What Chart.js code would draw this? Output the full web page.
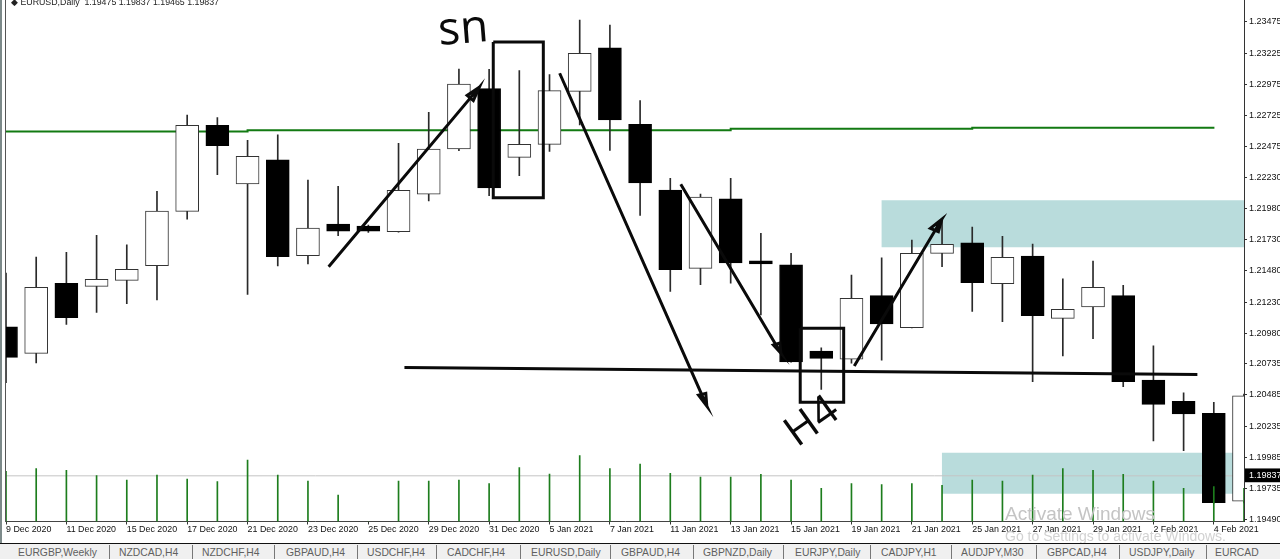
<!DOCTYPE html>
<html>
<head>
<meta charset="utf-8">
<title>EURUSD,Daily</title>
<script src="https://cdn.jsdelivr.net/npm/chart.js@4"></script>
<style>
    html, body { margin: 0; padding: 0; background: #fff; overflow: hidden; }
    #wrap { position: relative; width: 1280px; height: 559px; overflow: hidden; font-family: "Liberation Sans", sans-serif; }
    #wrap canvas { position: absolute; left: 0; top: 0; }
    #frameA { position: absolute; left: 0; top: 0; width: 2px; height: 543px; background: #7d8a8a; }
    #frameB { position: absolute; left: 5px; top: 0; width: 1px; height: 522px; background: #555; }
    #header { position: absolute; left: 11px; top: -3px; font-size: 8.8px; line-height: 10px; color: #222; white-space: pre; }
    #tabs { position: absolute; left: 0; top: 543px; width: 1280px; height: 16px; background: #f0f0f0; border-top: 1px solid #111; box-sizing: border-box; overflow: hidden; }
    #tabs span { position: absolute; top: 1.5px; font-size: 11.5px; color: #606060; white-space: nowrap; transform: scaleX(0.9); transform-origin: left center; }
    #tabs i { position: absolute; top: 1px; width: 1px; height: 14px; background: #777; }
    #wm1 { position: absolute; left: 1005px; top: 503px; font-size: 19px; color: #c4c4c4; white-space: nowrap; }
    #wm2 { position: absolute; left: 1005px; top: 528px; font-size: 14px; color: #d2d2d2; white-space: nowrap; }
</style>
</head>
<body>
<div id="wrap">
    <canvas id="priceChart" width="1280" height="559"></canvas>
    <div id="frameA"></div>
    <div id="frameB"></div>
    <div id="header"></div>
    <div id="wm1"></div>
    <div id="wm2"></div>
    <div id="tabs"></div>
</div>
<script>
const dates = ['9 Dec 2020','10 Dec 2020','11 Dec 2020','14 Dec 2020','15 Dec 2020','16 Dec 2020','17 Dec 2020','18 Dec 2020','21 Dec 2020','22 Dec 2020','23 Dec 2020','24 Dec 2020','25 Dec 2020','28 Dec 2020','29 Dec 2020','30 Dec 2020','31 Dec 2020','4 Jan 2021','5 Jan 2021','6 Jan 2021','7 Jan 2021','8 Jan 2021','11 Jan 2021','12 Jan 2021','13 Jan 2021','14 Jan 2021','15 Jan 2021','18 Jan 2021','19 Jan 2021','20 Jan 2021','21 Jan 2021','22 Jan 2021','25 Jan 2021','26 Jan 2021','27 Jan 2021','28 Jan 2021','29 Jan 2021','1 Feb 2021','2 Feb 2021','3 Feb 2021','4 Feb 2021','5 Feb 2021'];
const opens = [1.21032,1.20819,1.21380,1.21356,1.21404,1.21521,1.21957,1.22647,1.22176,1.22369,1.21601,1.21855,1.21839,1.21794,1.22094,1.22457,1.22940,1.22390,1.22494,1.22919,1.23267,1.22655,1.22128,1.21500,1.22058,1.21561,1.21529,1.20837,1.20773,1.21281,1.21024,1.21620,1.21705,1.21377,1.21599,1.21099,1.21190,1.21281,1.20605,1.20434,1.20338,1.19634];
const highs = [1.21463,1.21591,1.21629,1.21765,1.21689,1.22118,1.22729,1.22708,1.22527,1.22571,1.22208,1.22158,1.21847,1.22502,1.22751,1.23098,1.23096,1.23085,1.23053,1.23491,1.23449,1.22844,1.22222,1.22096,1.22222,1.21781,1.21620,1.20864,1.21446,1.21585,1.21727,1.21893,1.21831,1.21757,1.21695,1.21417,1.21559,1.21364,1.20880,1.20503,1.20426,1.20493];
const lows = [1.20583,1.20743,1.21051,1.21147,1.21216,1.21248,1.21895,1.22251,1.21292,1.21519,1.21535,1.21762,1.21789,1.21791,1.22040,1.22443,1.22082,1.22243,1.22438,1.22649,1.22446,1.21925,1.21316,1.21369,1.21382,1.21126,1.20749,1.20530,1.20741,1.20765,1.21022,1.21513,1.21155,1.21072,1.20591,1.20799,1.20936,1.20551,1.20116,1.20038,1.19618,1.19620];
const closes = [1.20787,1.21348,1.21104,1.21412,1.21492,1.21960,1.22647,1.22483,1.22398,1.21593,1.21823,1.21799,1.21799,1.22126,1.22457,1.22978,1.22144,1.22494,1.22924,1.23224,1.22689,1.22184,1.21489,1.22072,1.21543,1.21535,1.20751,1.20779,1.21260,1.21054,1.21620,1.21693,1.21385,1.21588,1.21120,1.21171,1.21348,1.20591,1.20410,1.20334,1.19621,1.20479];
const volumes = [50200,52800,51200,45800,41500,46500,42500,39800,61500,46500,40500,26500,0,40500,40500,41500,37800,53800,47500,65800,52800,57500,48200,44500,44500,47200,41500,33200,37800,36800,37800,36200,41500,40500,46500,52800,51200,47200,40500,33200,34800,33200];

const priceTicks = [1.23475,1.23225,1.22975,1.22725,1.22475,1.22230,1.21980,1.21730,1.21480,1.21230,1.20980,1.20735,1.20485,1.20235,1.19985,1.19735,1.19490];
const currentPrice = 1.19837;

// green level line, the drawn zones and the hand drawn marks
const greenX = [0, 8, 8, 24, 24, 32, 32, 40.02];
const greenY = [1.22597,1.22597,1.22607,1.22607,1.22620,1.22620,1.22628,1.22628];
const zoneUpper = { from: 28.99, top: 1.22045, bottom: 1.21669 };
const zoneLower = { from: 30.99, top: 1.20022, bottom: 1.19693 };
const levelLineX = [13.196, 39.456];
const levelLineY = [1.20706, 1.20650];
const arrowAX = [10.686, 15.673, 15.477, 15.272, 15.673];
const arrowAY = [1.21513, 1.22951, 1.22845, 1.22886, 1.22951];
const arrowBX = [18.336, 23.210, 22.935, 23.176, 23.210];
const arrowBY = [1.23064, 1.20396, 1.20484, 1.20498, 1.20396];
const arrowCX = [22.347, 25.663, 25.414, 25.630, 25.663];
const arrowCY = [1.22174, 1.20819, 1.20885, 1.20901, 1.20819];
const arrowDX = [28.093, 30.991, 30.614, 30.879, 30.991];
const arrowDY = [1.20717, 1.21893, 1.21821, 1.21794, 1.21893];
const boxSnX = [16.137, 17.795, 17.795, 16.137, 16.137];
const boxSnY = [1.23315, 1.23315, 1.22066, 1.22066, 1.23315];
const boxH4X = [26.303, 27.742, 27.742, 26.303, 26.303];
const boxH4Y = [1.21019, 1.21019, 1.20426, 1.20426, 1.21019];
const notes = ['sn', 'H4'];
const noteX = [14.35, 26.2];
const noteY = [1.23290, 1.20060];

const headerText = '\u25C6 EURUSD,Daily  1.19475 1.19837 1.19465 1.19837';
const tabNames = ['EURGBP,Weekly','NZDCAD,H4','NZDCHF,H4','GBPAUD,H4','USDCHF,H4','CADCHF,H4','EURUSD,Daily','GBPAUD,H4','GBPNZD,Daily','EURJPY,Daily','CADJPY,H1','AUDJPY,M30','GBPCAD,H4','USDJPY,Daily','EURCAD'];

const pts = (xs, ys) => xs.map((x, i) => ({ x: x, y: ys[i] }));
const idx = dates.map((d, i) => i);

const blackLine = (xs, ys, width) => ({
    type: 'line',
    data: pts(xs, ys),
    borderColor: '#0a0a0a',
    borderWidth: width,
    pointRadius: 0,
    fill: false,
    tension: 0,
    clip: 0,
    borderJoinStyle: 'miter',
    order: 1
});

const zone = (z) => ({
    type: 'line',
    data: [{ x: z.from, y: z.top }, { x: 41, y: z.top }],
    borderWidth: 0,
    borderColor: 'transparent',
    backgroundColor: '#b9dcdc',
    pointRadius: 0,
    fill: { target: { value: z.bottom } },
    clip: 0,
    order: 9
});

// the pen notes, kept as text
const notesPlugin = {
    id: 'notes',
    afterDatasetsDraw(chart) {
        const c = chart.ctx;
        const sx = chart.scales.x, sy = chart.scales.y;
        c.save();
        c.fillStyle = '#0a0a0a';
        c.textBaseline = 'alphabetic';
        c.font = '46px "Open Sans"';
        c.translate(sx.getPixelForValue(noteX[0]), sy.getPixelForValue(noteY[0]));
        c.rotate(-0.08);
        c.fillText(notes[0], 0, 0);
        c.restore();
        c.save();
        c.fillStyle = '#0a0a0a';
        c.textBaseline = 'alphabetic';
        c.font = '42px "Open Sans"';
        c.translate(sx.getPixelForValue(noteX[1]), sy.getPixelForValue(noteY[1]));
        c.rotate(-0.62);
        c.fillText(notes[1], 0, 0);
        c.restore();
    }
};

new Chart(document.getElementById('priceChart'), {
    type: 'bar',
    data: {
        datasets: [
            zone(zoneUpper),
            zone(zoneLower),
            {
                type: 'line',
                data: [{ x: 0, y: currentPrice }, { x: 41, y: currentPrice }],
                borderColor: '#c4c4c4',
                borderWidth: 1,
                pointRadius: 0,
                clip: 0,
                order: 8
            },
            {
                type: 'line',
                data: pts(greenX, greenY),
                borderColor: '#127a12',
                borderWidth: 2,
                pointRadius: 0,
                tension: 0,
                clip: 0,
                order: 7
            },
            {
                // wicks
                data: idx.map(i => ({ x: i, y: [lows[i], highs[i]] })),
                backgroundColor: '#2a2a2a',
                borderWidth: 0,
                barThickness: 1,
                grouped: false,
                clip: 0,
                order: 6
            },
            {
                // bodies
                data: idx.map(i => ({ x: i, y: [opens[i], closes[i]] })),
                backgroundColor: (ctx) => closes[ctx.dataIndex] > opens[ctx.dataIndex] ? '#ffffff' : '#000000',
                borderColor: (ctx) => closes[ctx.dataIndex] > opens[ctx.dataIndex] ? '#333333' : '#000000',
                borderWidth: 1,
                borderSkipped: false,
                barThickness: 23,
                grouped: false,
                clip: 0,
                order: 5
            },
            {
                // tick volume, on its own hidden axis
                data: idx.map(i => ({ x: i, y: volumes[i] })),
                yAxisID: 'yVol',
                backgroundColor: '#1d7d1d',
                borderWidth: 0,
                barThickness: 1,
                grouped: false,
                clip: 0,
                order: 4
            },
            blackLine(levelLineX, levelLineY, 3),
            blackLine(arrowAX, arrowAY, 3),
            blackLine(arrowBX, arrowBY, 3),
            blackLine(arrowCX, arrowCY, 3),
            blackLine(arrowDX, arrowDY, 3),
            blackLine(boxSnX, boxSnY, 3),
            blackLine(boxH4X, boxH4Y, 3)
        ]
    },
    options: {
        responsive: false,
        animation: false,
        events: [],
        layout: { padding: { left: 6, right: 0, top: 0, bottom: 0 } },
        plugins: {
            legend: { display: false },
            tooltip: { enabled: false }
        },
        scales: {
            x: {
                type: 'linear',
                min: 0,
                max: 41,
                offset: false,
                afterBuildTicks: (s) => { s.ticks = idx.filter(i => i % 2 === 0).map(i => ({ value: i })); },
                afterFit: (s) => { s.height = 37.5; s.paddingRight = 0; },
                grid: { display: true, drawOnChartArea: false, drawTicks: true, tickLength: 3, tickColor: '#333', offset: false },
                border: { color: '#444', width: 1 },
                ticks: {
                    autoSkip: false,
                    maxRotation: 0,
                    align: 'start',
                    padding: 0,
                    color: '#111',
                    font: { family: '"Liberation Sans"', size: 8.9 },
                    callback: (v) => dates[v]
                }
            },
            y: {
                type: 'linear',
                position: 'right',
                min: 1.19471,
                max: 1.23651,
                afterBuildTicks: (s) => { s.ticks = priceTicks.concat(currentPrice).map(v => ({ value: v })); },
                afterFit: (s) => { s.width = 36; s.paddingTop = 0; s.paddingBottom = 0; },
                grid: { display: true, drawOnChartArea: false, tickLength: 3, tickColor: '#333' },
                border: { color: '#333', width: 1 },
                ticks: {
                    autoSkip: false,
                    padding: 2,
                    color: (ctx) => ctx.tick.value === currentPrice ? '#ffffff' : '#111111',
                    font: { family: '"Liberation Sans"', size: 9 },
                    showLabelBackdrop: (ctx) => ctx.tick.value === currentPrice,
                    backdropColor: '#000000',
                    backdropPadding: { left: 4, right: 6, top: 2, bottom: 1 },
                    callback: (v) => v.toFixed(5)
                }
            },
            yVol: {
                type: 'linear',
                display: false,
                min: 0,
                max: 521500
            }
        }
    },
    plugins: [notesPlugin]
});

document.getElementById('header').textContent = headerText;
document.getElementById('wm1').textContent = 'Activate Windows';
document.getElementById('wm2').textContent = 'Go to Settings to activate Windows.';

// tab strip at the bottom of the terminal window
const tabLeft = [18,119,202,286,367,447,531,621,703,795,881,961,1047,1129,1215];
const tabSep = [109,192,274,357,436,520,610,693,783,870,951,1036,1119,1206];
const tabs = document.getElementById('tabs');
tabNames.forEach((name, i) => {
    const s = document.createElement('span');
    s.textContent = name;
    s.style.left = tabLeft[i] + 'px';
    tabs.appendChild(s);
});
tabSep.forEach((x) => {
    const b = document.createElement('i');
    b.style.left = x + 'px';
    tabs.appendChild(b);
});
</script>
</body>
</html>
